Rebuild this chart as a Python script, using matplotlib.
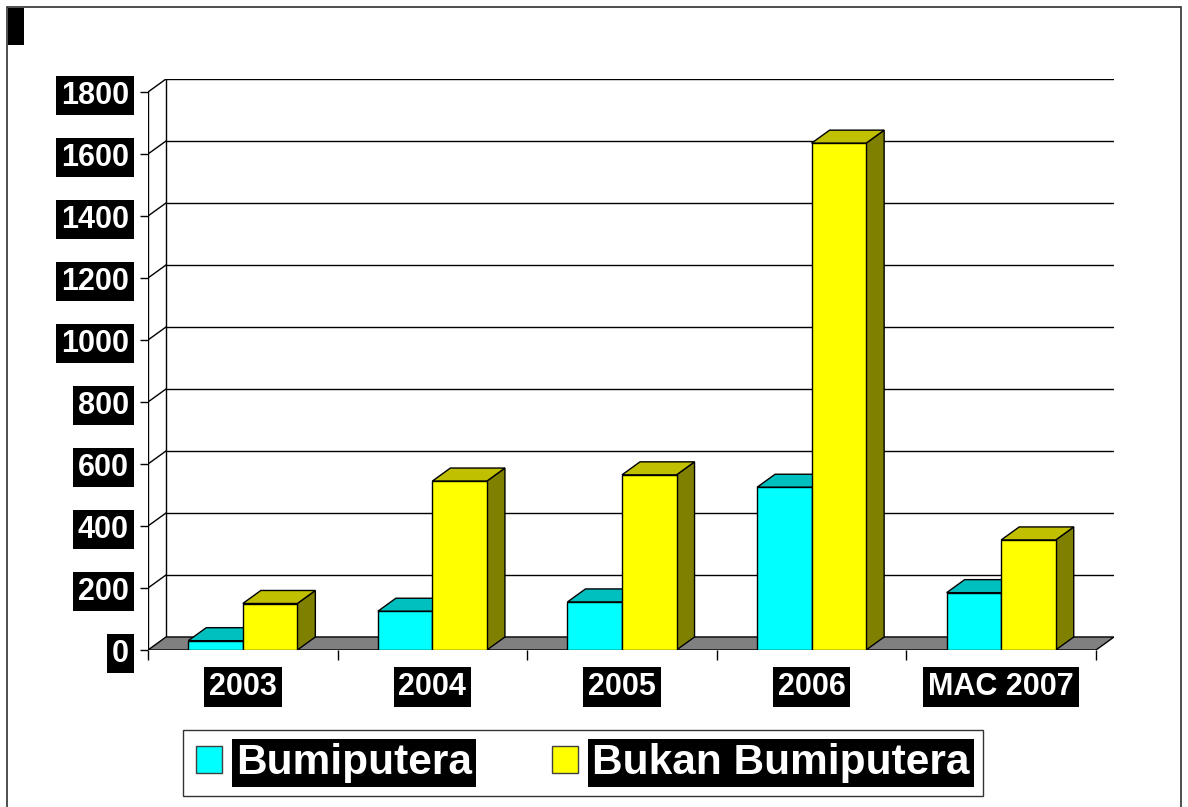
import matplotlib.pyplot as plt
from matplotlib.patches import Polygon, Rectangle, Patch
import numpy as np

plt.rcParams['font.family'] = ['Liberation Sans', 'DejaVu Sans']
plt.rcParams['font.weight'] = 'bold'

# data
categories = ['2003', '2004', '2005', '2006', 'MAC 2007']
bumiputera = [30, 125, 155, 525, 185]
bukan_bumiputera = [150, 545, 565, 1635, 355]
y_ticks = [0, 200, 400, 600, 800, 1000, 1200, 1400, 1600, 1800]
series_names = ['Bumiputera', 'Bukan Bumiputera']

W, H = 1188, 807
fig = plt.figure(figsize=(W / 100, H / 100), dpi=100)
ax = fig.add_axes([148 / W, (H - 650) / H, (1114 - 148) / W, (650 - 79) / H])

n = len(categories)
ymax = y_ticks[-1]
dx, dy = 0.095, 42      # kedalaman 3D (unit kategori, unit nilai)
bw = 0.2876             # lebar satu bar

ax.set_xlim(-0.5, n - 0.5 + dx)
ax.set_ylim(0, ymax + dy)
for s in ax.spines.values():
    s.set_visible(False)

# dinding belakang + garis grid
for y in y_ticks[1:]:
    ax.plot([-0.5 + dx, n - 0.5 + dx], [y + dy, y + dy], color='black', lw=1, zorder=1)
    ax.plot([-0.5, -0.5 + dx], [y, y + dy], color='black', lw=1, zorder=1)
ax.plot([-0.5 + dx, -0.5 + dx], [dy, ymax + dy], color='black', lw=1, zorder=1)
ax.plot([-0.5, -0.5], [0, ymax], color='black', lw=1, zorder=1)

# lantai
ax.add_patch(Polygon([(-0.5, 0), (n - 0.5, 0), (n - 0.5 + dx, dy), (-0.5 + dx, dy)],
                     closed=True, fc='#808080', ec='black', lw=1, zorder=2))


def bar3d(x0, h, front, top, side, z):
    ax.add_patch(Polygon([(x0 + bw, 0), (x0 + bw + dx, dy), (x0 + bw + dx, h + dy), (x0 + bw, h)],
                         fc=side, ec='black', lw=1, zorder=z))
    ax.add_patch(Polygon([(x0, h), (x0 + bw, h), (x0 + bw + dx, h + dy), (x0 + dx, h + dy)],
                         fc=top, ec='black', lw=1, zorder=z))
    ax.add_patch(Polygon([(x0, 0), (x0 + bw, 0), (x0 + bw, h), (x0, h)],
                         fc=front, ec='black', lw=1, zorder=z))


for i in range(n):
    bar3d(i - bw, bumiputera[i], '#00FFFF', '#00BFBF', '#008080', 3 + 2 * i)
    bar3d(i, bukan_bumiputera[i], '#FFFF00', '#C0C000', '#808000', 4 + 2 * i)

# paksi
ax.set_yticks(y_ticks)
ax.set_yticklabels([str(v) for v in y_ticks])
ax.tick_params(axis='y', direction='out', length=5.8, width=1, pad=8,
               labelsize=22, labelcolor='white')
ax.set_xticks(np.arange(-0.5, n, 1.0))
ax.set_xticklabels([''] * (n + 1))
ax.set_xticks(range(n), minor=True)
ax.set_xticklabels(categories, minor=True)
ax.tick_params(axis='x', which='major', direction='out', length=7, width=1)
ax.tick_params(axis='x', which='minor', length=0, pad=16, labelsize=22, labelcolor='white')

for lbl in ax.get_yticklabels() + ax.get_xticklabels(minor=True):
    lbl.set_fontweight('bold')
    lbl.set_bbox(dict(facecolor='black', edgecolor='none', pad=3.5))

# legenda
handles = [Patch(fc='#00FFFF', ec='#404040', lw=1, label=series_names[0]),
           Patch(fc='#FFFF00', ec='#404040', lw=1, label=series_names[1])]
leg = fig.legend(handles=handles, loc='center', bbox_to_anchor=(583 / W, 1 - 763 / H),
                 ncol=2, frameon=True, fancybox=False, edgecolor='black', fontsize=30.5,
                 handlelength=0.61, handleheight=0.6, handletextpad=0.33,
                 columnspacing=1.9, borderpad=0.3)
leg.get_frame().set_linewidth(1)
for t in leg.get_texts():
    t.set_color('white')
    t.set_fontweight('bold')
    t.set_bbox(dict(facecolor='black', edgecolor='none', pad=3))

# kotak hitam kecil (tajuk) dan bingkai
fig.add_artist(Rectangle((8 / W, 1 - 45 / H), 16 / W, 37 / H, transform=fig.transFigure,
                         fc='black', ec='none'))
fig.add_artist(Rectangle((7 / W, -0.02), (1181 - 7) / W, 1 - 7 / H + 0.02,
                         transform=fig.transFigure, fill=False, ec='#303030', lw=1.2))

fig.savefig('out.png', dpi=100)
